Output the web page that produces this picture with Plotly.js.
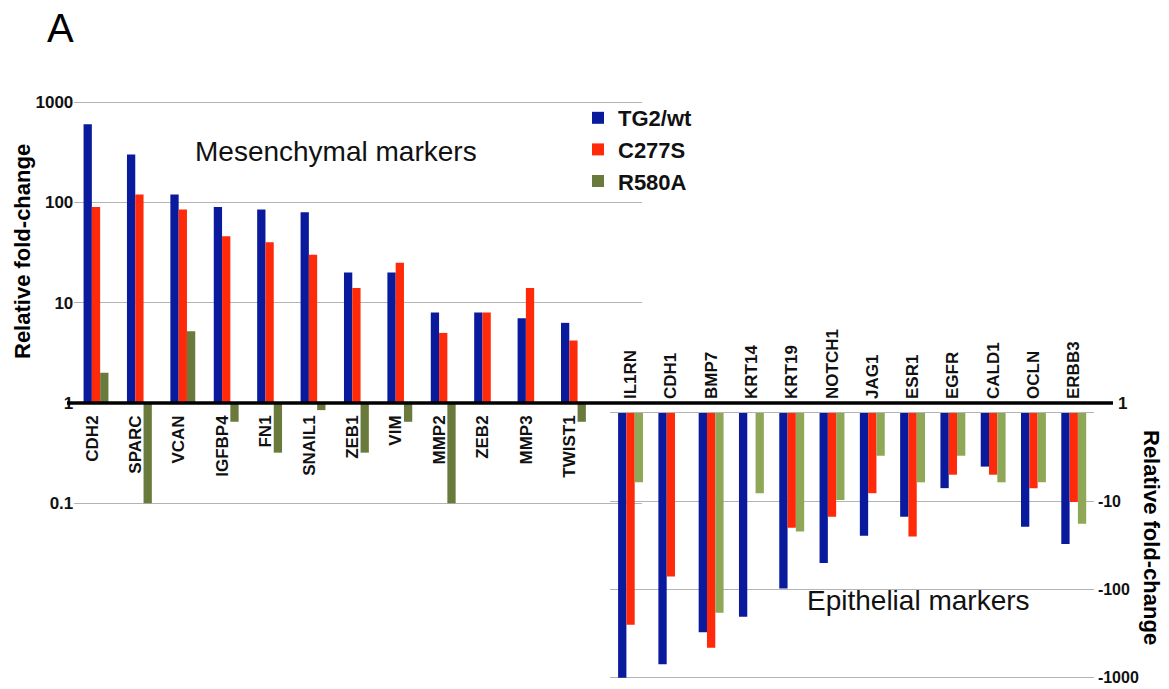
<!DOCTYPE html>
<html>
<head>
<meta charset="utf-8">
<script src="https://cdn.plot.ly/plotly-3.0.1.min.js"></script>
<style>html,body{margin:0;padding:0;background:#fff;}#chart{width:1169px;height:689px;}</style>
</head>
<body>
<div id="chart"></div>
<script>
// ---- Data ----
var mesGenes = ['CDH2','SPARC','VCAN','IGFBP4','FN1','SNAIL1','ZEB1','VIM','MMP2','ZEB2','MMP3','TWIST1'];
var mesTG2   = [600, 300, 120, 90, 85, 80, 20, 20, 8, 8, 7, 6.3];
var mesC277S = [90, 120, 85, 46, 40, 30, 14, 25, 5, 8, 14, 4.2];
var mesR580A = [2, 0.1, 5.2, 0.65, 0.32, 0.85, 0.32, 0.65, 0.1, null, null, 0.65];

var epiGenes = ['IL1RN','CDH1','BMP7','KRT14','KRT19','NOTCH1','JAG1','ESR1','EGFR','CALD1','OCLN','ERBB3'];
var epiTG2   = [-1000, -700, -305, -203, -97, -50, -24.5, -15, -7.1, -4.05, -19.4, -30.5];
var epiC277S = [-250, -71, -455, null, -20, -15, -8.1, -25, -5, -5, -7.1, -10.2];
var epiR580A = [-6.1, null, -183, -8.1, -22, -9.7, -3.05, -6.1, -3.05, -6.1, -6.1, -18];

var seriesNames = ['TG2/wt', 'C277S', 'R580A'];
var leftTicks = [0.1, 1, 10, 100, 1000];
var leftTickText = ['0.1', '1', '10', '100', '1000'];
var rightTicks = [1, 10, 100, 1000];
var rightTickText = ['', '-10', '-100', '-1000'];

// ---- Styles ----
var colBlue = '#0a1a9c', colRed = '#ff2a0a', colGreenL = '#6a7a3c', colGreenR = '#8fa858';
var W = 1169, H = 689;
var FONT = 'Liberation Sans, Arial, sans-serif';

function px(x){ return x / W; }
function py(y){ return 1 - y / H; }

// bars start at fold-change 1 (base) on log axes
function fromOne(arr){ return arr.map(function(v){ return v === null ? null : v - 1; }); }
function fromOneAbs(arr){ return arr.map(function(v){ return v === null ? null : Math.abs(v) - 1; }); }
function ones(arr){ return arr.map(function(){ return 1; }); }

var wL = 0.191, wR = 0.206;
var traces = [];
var mesSeries = [mesTG2, mesC277S, mesR580A];
var epiSeries = [epiTG2, epiC277S, epiR580A];
var colsL = [colBlue, colRed, colGreenL];
var colsR = [colBlue, colRed, colGreenR];
for (var i = 0; i < 3; i++) {
  traces.push({
    type: 'bar', name: seriesNames[i], legendgroup: 'g' + i,
    x: mesGenes, y: fromOne(mesSeries[i]), base: ones(mesGenes),
    width: wL, offset: -1.5 * wL + i * wL,
    marker: {color: colsL[i], line: {width: 0}},
    xaxis: 'x', yaxis: 'y', showlegend: true
  });
  traces.push({
    type: 'bar', name: seriesNames[i], legendgroup: 'g' + i,
    x: epiGenes, y: fromOneAbs(epiSeries[i]), base: ones(epiGenes),
    width: wR, offset: -1.5 * wR + i * wR,
    marker: {color: colsR[i], line: {width: 0}},
    xaxis: 'x2', yaxis: 'y2', showlegend: false
  });
}

var geneFont = {family: FONT, size: 17, color: '#111', weight: 'bold'};
var yTickFont = {family: FONT, size: 17, color: '#111', weight: 'bold'};

var layout = {
  width: W, height: H,
  margin: {l: 0, r: 0, t: 0, b: 0},
  paper_bgcolor: '#fff', plot_bgcolor: 'rgba(0,0,0,0)',
  barmode: 'overlay',
  showlegend: true,
  hovermode: false,
  legend: {
    x: px(578), y: py(97), xanchor: 'left', yanchor: 'top',
    font: {family: FONT, size: 22, color: '#111', weight: 'bold'},
    bgcolor: 'rgba(0,0,0,0)', tracegroupgap: 4, traceorder: 'normal'
  },
  xaxis: {
    domain: [px(74.3), px(642)], range: [-0.5, 12.58],
    anchor: 'free', position: py(403), side: 'bottom',
    type: 'category', tickangle: -90, ticks: '', showline: false, showgrid: false,
    tickfont: geneFont, ticklabelstandoff: 8, ticklabelshift: -4, automargin: false
  },
  yaxis: {
    domain: [0, 1], type: 'log', range: [-2.851, 4.018], anchor: 'x', side: 'left',
    tickvals: leftTicks, ticktext: leftTickText, tickfont: yTickFont,
    showgrid: true, gridcolor: '#b4b4b4', gridwidth: 1, showline: false, ticks: '',
    zeroline: false, automargin: false
  },
  xaxis2: {
    domain: [px(610.4), px(1093.9)], range: [-0.5, 11.5],
    anchor: 'free', position: py(403), side: 'top',
    type: 'category', tickangle: -90, ticks: '', showline: false, showgrid: false,
    tickfont: geneFont, ticklabelstandoff: 4, automargin: false
  },
  yaxis2: {
    domain: [0, 1], type: 'log', range: [3.126, -4.677], anchor: 'x2', side: 'right',
    tickvals: rightTicks, ticktext: rightTickText, tickfont: {family: FONT, size: 16, color: '#111', weight: 'bold'},
    showgrid: true, gridcolor: '#b4b4b4', gridwidth: 1, showline: false, ticks: '',
    zeroline: false, automargin: false, ticklabelstandoff: 3
  },
  shapes: [{
    type: 'line', xref: 'paper', yref: 'paper',
    x0: px(67), x1: px(1113), y0: py(403), y1: py(403),
    line: {color: '#000', width: 3.5}
  }],
  annotations: [
    {text: 'A', xref: 'paper', yref: 'paper', x: px(60), y: py(28), xanchor: 'center', yanchor: 'middle',
     showarrow: false, font: {family: FONT, size: 40, color: '#000'}},
    {text: 'Relative fold-change', xref: 'paper', yref: 'paper', x: px(23), y: py(252), textangle: -90,
     xanchor: 'center', yanchor: 'middle',
     showarrow: false, font: {family: FONT, size: 22, color: '#000', weight: 'bold'}},
    {text: 'Relative fold-change', xref: 'paper', yref: 'paper', x: px(1152), y: py(537), textangle: 90,
     xanchor: 'center', yanchor: 'middle',
     showarrow: false, font: {family: FONT, size: 22, color: '#000', weight: 'bold'}},
    {text: 'Mesenchymal markers', xref: 'paper', yref: 'paper', x: px(336), y: py(152),
     xanchor: 'center', yanchor: 'middle',
     showarrow: false, font: {family: FONT, size: 28, color: '#111'}},
    {text: 'Epithelial markers', xref: 'paper', yref: 'paper', x: px(918), y: py(600),
     xanchor: 'center', yanchor: 'middle',
     showarrow: false, font: {family: FONT, size: 28, color: '#111'}},
    {text: '1', xref: 'paper', yref: 'paper', x: px(1116), y: py(403), xanchor: 'left', yanchor: 'middle',
     showarrow: false, font: {family: FONT, size: 17, color: '#111', weight: 'bold'}}
  ]
};

Plotly.newPlot('chart', traces, layout, {staticPlot: true, displayModeBar: false});
</script>
</body>
</html>
